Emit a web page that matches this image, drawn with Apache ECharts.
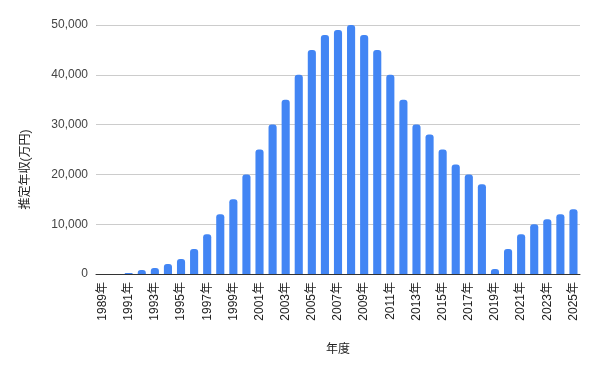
<!DOCTYPE html>
<html>
<head>
<meta charset="utf-8">
<script src="https://cdn.jsdelivr.net/npm/echarts@6/dist/echarts.min.js"></script>
<style>html,body{margin:0;padding:0;background:#fff}#c{width:601px;height:371px}</style>
</head>
<body>
<div id="c"></div>
<script>
const years = ['1989年','1990年','1991年','1992年','1993年','1994年','1995年','1996年','1997年','1998年','1999年','2000年','2001年','2002年','2003年','2004年','2005年','2006年','2007年','2008年','2009年','2010年','2011年','2012年','2013年','2014年','2015年','2016年','2017年','2018年','2019年','2020年','2021年','2022年','2023年','2024年','2025年'];
const income = [0,0,200,800,1200,2000,3000,5000,8000,12000,15000,20000,25000,30000,35000,40000,45000,48000,49000,50000,48000,45000,40000,35000,30000,28000,25000,22000,20000,18000,1000,5000,8000,10000,11000,12000,13000];
const yTicks = [0,10000,20000,30000,40000,50000];

const chart = echarts.init(document.getElementById('c'), null, {renderer:'canvas'});
const font = 'Liberation Sans, Arial, "Noto Sans CJK JP", sans-serif';
chart.setOption({
  animation:false,
  textStyle:{fontFamily:font},
  grid:{left:96, right:21, top:25, bottom:97},
  xAxis:{
    type:'category', data:years,
    name:'年度', nameLocation:'middle', nameGap:70,
    nameTextStyle:{color:'#222', fontSize:12, fontFamily:font},
    axisLine:{lineStyle:{color:'#333', width:1}},
    axisTick:{show:false},
    axisLabel:{interval:1, rotate:90, color:'#222', fontSize:12, margin:8, fontFamily:font}
  },
  yAxis:{
    type:'value', min:yTicks[0], max:yTicks[yTicks.length-1], interval:10000,
    name:'推定年収(万円)', nameLocation:'middle', nameGap:64,
    nameTextStyle:{color:'#222', fontSize:12, fontFamily:font, padding:[0,40,0,0]},
    axisLine:{show:false}, axisTick:{show:false},
    splitLine:{lineStyle:{color:'#cccccc'}},
    axisLabel:{color:'#444', fontSize:12, margin:8, fontFamily:font,
      formatter:v=>v.toLocaleString('en-US')}
  },
  series:[{
    type:'bar', data:income, barCategoryGap:'38%',
    itemStyle:{color:'#4285F4', borderRadius:[3,3,0,0]}
  }]
});
</script>
</body>
</html>
